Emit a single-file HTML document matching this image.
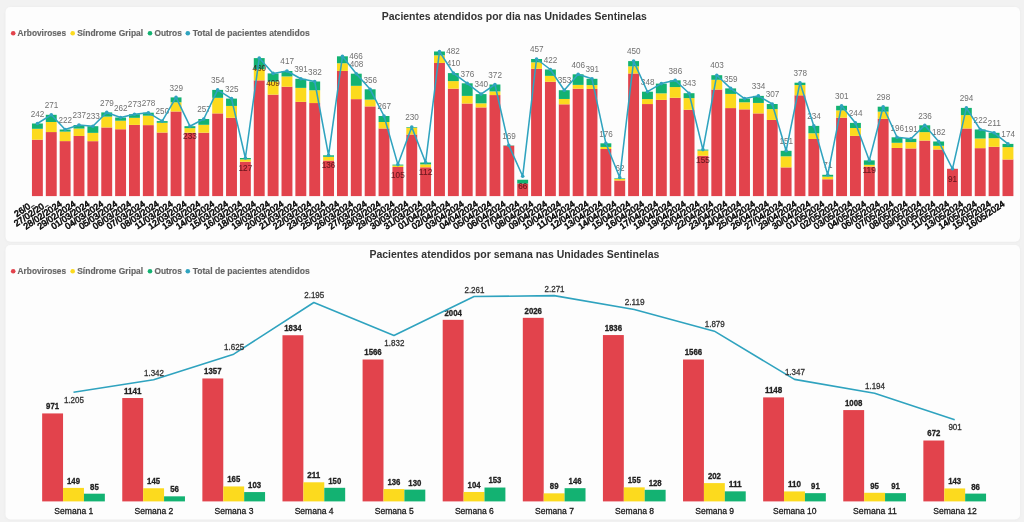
<!DOCTYPE html>
<html lang="pt-BR"><head><meta charset="utf-8"><title>Pacientes atendidos nas Unidades Sentinelas</title>
<style>html,body{margin:0;padding:0;background:#f2f2f2;}body{width:1024px;height:522px;overflow:hidden;}svg{display:block;filter:blur(0.4px);}</style></head>
<body>
<svg width="1024" height="522" viewBox="0 0 1024 522" font-family="'Liberation Sans', Arial, sans-serif">
<defs><filter id="sh" x="-2%" y="-5%" width="104%" height="110%"><feGaussianBlur stdDeviation="1.2"/></filter></defs>
<rect width="1024" height="522" fill="#f2f2f2"/>
<g opacity="0.999">
<rect x="5.5" y="7.5" width="1014.5" height="234.7" rx="5" fill="#e9e9e9" filter="url(#sh)"/>
<rect x="5.5" y="7" width="1014.5" height="234.7" rx="5" fill="#fdfdfd"/>
<rect x="5.5" y="245.5" width="1014.5" height="274.5" rx="5" fill="#e9e9e9" filter="url(#sh)"/>
<rect x="5.5" y="245" width="1014.5" height="274.5" rx="5" fill="#fdfdfd"/>
<text x="514.30" y="20.10" font-size="10.5" fill="#333" text-anchor="middle" font-weight="bold" textLength="265.0" lengthAdjust="spacingAndGlyphs" >Pacientes atendidos por dia nas Unidades Sentinelas</text>
<text x="514.40" y="257.90" font-size="10.5" fill="#333" text-anchor="middle" font-weight="bold" textLength="290.0" lengthAdjust="spacingAndGlyphs" >Pacientes atendidos por semana nas Unidades Sentinelas</text>
<circle cx="13.2" cy="33.3" r="2.3" fill="#E2434C"/>
<text x="17.60" y="36.30" font-size="8.4" fill="#666" text-anchor="start" font-weight="bold" textLength="48.5" lengthAdjust="spacingAndGlyphs" stroke="#666" stroke-width="0.15">Arboviroses</text>
<circle cx="72.7" cy="33.3" r="2.3" fill="#FCDA1E"/>
<text x="77.20" y="36.30" font-size="8.4" fill="#666" text-anchor="start" font-weight="bold" textLength="66.0" lengthAdjust="spacingAndGlyphs" stroke="#666" stroke-width="0.15">Síndrome Gripal</text>
<circle cx="150" cy="33.3" r="2.3" fill="#13B272"/>
<text x="154.40" y="36.30" font-size="8.4" fill="#666" text-anchor="start" font-weight="bold" textLength="27.4" lengthAdjust="spacingAndGlyphs" stroke="#666" stroke-width="0.15">Outros</text>
<circle cx="187.8" cy="33.3" r="2.3" fill="#2FA3BF"/>
<text x="192.70" y="36.30" font-size="8.4" fill="#666" text-anchor="start" font-weight="bold" textLength="117.0" lengthAdjust="spacingAndGlyphs" stroke="#666" stroke-width="0.15">Total de pacientes atendidos</text>
<circle cx="13.2" cy="271.3" r="2.3" fill="#E2434C"/>
<text x="17.60" y="274.30" font-size="8.4" fill="#666" text-anchor="start" font-weight="bold" textLength="48.5" lengthAdjust="spacingAndGlyphs" stroke="#666" stroke-width="0.15">Arboviroses</text>
<circle cx="72.7" cy="271.3" r="2.3" fill="#FCDA1E"/>
<text x="77.20" y="274.30" font-size="8.4" fill="#666" text-anchor="start" font-weight="bold" textLength="66.0" lengthAdjust="spacingAndGlyphs" stroke="#666" stroke-width="0.15">Síndrome Gripal</text>
<circle cx="150" cy="271.3" r="2.3" fill="#13B272"/>
<text x="154.40" y="274.30" font-size="8.4" fill="#666" text-anchor="start" font-weight="bold" textLength="27.4" lengthAdjust="spacingAndGlyphs" stroke="#666" stroke-width="0.15">Outros</text>
<circle cx="187.8" cy="271.3" r="2.3" fill="#2FA3BF"/>
<text x="192.70" y="274.30" font-size="8.4" fill="#666" text-anchor="start" font-weight="bold" textLength="117.0" lengthAdjust="spacingAndGlyphs" stroke="#666" stroke-width="0.15">Total de pacientes atendidos</text>
<rect x="31.95" y="139.69" width="10.9" height="56.41" fill="#E2434C"/>
<rect x="31.95" y="128.80" width="10.9" height="10.89" fill="#FCDA1E"/>
<rect x="31.95" y="123.50" width="10.9" height="5.30" fill="#13B272"/>
<rect x="45.81" y="132.06" width="10.9" height="64.04" fill="#E2434C"/>
<rect x="45.81" y="121.98" width="10.9" height="10.09" fill="#FCDA1E"/>
<rect x="45.81" y="114.80" width="10.9" height="7.18" fill="#13B272"/>
<rect x="59.68" y="141.11" width="10.9" height="54.99" fill="#E2434C"/>
<rect x="59.68" y="131.62" width="10.9" height="9.50" fill="#FCDA1E"/>
<rect x="59.68" y="129.50" width="10.9" height="2.12" fill="#13B272"/>
<rect x="73.55" y="135.96" width="10.9" height="60.14" fill="#E2434C"/>
<rect x="73.55" y="128.54" width="10.9" height="7.42" fill="#FCDA1E"/>
<rect x="73.55" y="125.00" width="10.9" height="3.54" fill="#13B272"/>
<rect x="87.41" y="141.17" width="10.9" height="54.93" fill="#E2434C"/>
<rect x="87.41" y="132.86" width="10.9" height="8.31" fill="#FCDA1E"/>
<rect x="87.41" y="126.20" width="10.9" height="6.66" fill="#13B272"/>
<rect x="101.27" y="127.44" width="10.9" height="68.66" fill="#E2434C"/>
<rect x="101.27" y="116.61" width="10.9" height="10.83" fill="#FCDA1E"/>
<rect x="101.27" y="112.40" width="10.9" height="4.21" fill="#13B272"/>
<rect x="115.14" y="129.25" width="10.9" height="66.85" fill="#E2434C"/>
<rect x="115.14" y="120.69" width="10.9" height="8.56" fill="#FCDA1E"/>
<rect x="115.14" y="117.50" width="10.9" height="3.19" fill="#13B272"/>
<rect x="129.01" y="124.91" width="10.9" height="71.19" fill="#E2434C"/>
<rect x="129.01" y="117.82" width="10.9" height="7.08" fill="#FCDA1E"/>
<rect x="129.01" y="114.20" width="10.9" height="3.62" fill="#13B272"/>
<rect x="142.87" y="125.12" width="10.9" height="70.98" fill="#E2434C"/>
<rect x="142.87" y="115.68" width="10.9" height="9.45" fill="#FCDA1E"/>
<rect x="142.87" y="112.70" width="10.9" height="2.98" fill="#13B272"/>
<rect x="156.74" y="132.53" width="10.9" height="63.57" fill="#E2434C"/>
<rect x="156.74" y="122.79" width="10.9" height="9.74" fill="#FCDA1E"/>
<rect x="156.74" y="121.10" width="10.9" height="1.69" fill="#13B272"/>
<rect x="170.60" y="111.47" width="10.9" height="84.63" fill="#E2434C"/>
<rect x="170.60" y="102.29" width="10.9" height="9.18" fill="#FCDA1E"/>
<rect x="170.60" y="97.40" width="10.9" height="4.89" fill="#13B272"/>
<rect x="184.47" y="132.72" width="10.9" height="63.38" fill="#E2434C"/>
<rect x="184.47" y="128.15" width="10.9" height="4.56" fill="#FCDA1E"/>
<rect x="184.47" y="126.20" width="10.9" height="1.95" fill="#13B272"/>
<rect x="198.33" y="132.71" width="10.9" height="63.39" fill="#E2434C"/>
<rect x="198.33" y="124.80" width="10.9" height="7.91" fill="#FCDA1E"/>
<rect x="198.33" y="119.00" width="10.9" height="5.80" fill="#13B272"/>
<rect x="212.20" y="113.39" width="10.9" height="82.71" fill="#E2434C"/>
<rect x="212.20" y="97.84" width="10.9" height="15.55" fill="#FCDA1E"/>
<rect x="212.20" y="89.90" width="10.9" height="7.94" fill="#13B272"/>
<rect x="226.06" y="117.78" width="10.9" height="78.32" fill="#E2434C"/>
<rect x="226.06" y="105.93" width="10.9" height="11.85" fill="#FCDA1E"/>
<rect x="226.06" y="98.60" width="10.9" height="7.33" fill="#13B272"/>
<rect x="239.93" y="161.74" width="10.9" height="34.36" fill="#E2434C"/>
<rect x="239.93" y="159.37" width="10.9" height="2.37" fill="#FCDA1E"/>
<rect x="239.93" y="158.00" width="10.9" height="1.37" fill="#13B272"/>
<rect x="253.79" y="80.37" width="10.9" height="115.73" fill="#E2434C"/>
<rect x="253.79" y="69.19" width="10.9" height="11.18" fill="#FCDA1E"/>
<rect x="253.79" y="58.10" width="10.9" height="11.09" fill="#13B272"/>
<rect x="267.66" y="94.64" width="10.9" height="101.46" fill="#E2434C"/>
<rect x="267.66" y="81.56" width="10.9" height="13.08" fill="#FCDA1E"/>
<rect x="267.66" y="73.40" width="10.9" height="8.16" fill="#13B272"/>
<rect x="281.52" y="86.73" width="10.9" height="109.37" fill="#E2434C"/>
<rect x="281.52" y="76.44" width="10.9" height="10.29" fill="#FCDA1E"/>
<rect x="281.52" y="71.00" width="10.9" height="5.44" fill="#13B272"/>
<rect x="295.38" y="101.84" width="10.9" height="94.26" fill="#E2434C"/>
<rect x="295.38" y="87.87" width="10.9" height="13.97" fill="#FCDA1E"/>
<rect x="295.38" y="78.80" width="10.9" height="9.07" fill="#13B272"/>
<rect x="309.25" y="103.05" width="10.9" height="93.05" fill="#E2434C"/>
<rect x="309.25" y="90.26" width="10.9" height="12.78" fill="#FCDA1E"/>
<rect x="309.25" y="81.50" width="10.9" height="8.76" fill="#13B272"/>
<rect x="323.12" y="160.53" width="10.9" height="35.57" fill="#E2434C"/>
<rect x="323.12" y="156.81" width="10.9" height="3.72" fill="#FCDA1E"/>
<rect x="323.12" y="155.30" width="10.9" height="1.51" fill="#13B272"/>
<rect x="336.98" y="70.93" width="10.9" height="125.17" fill="#E2434C"/>
<rect x="336.98" y="63.24" width="10.9" height="7.69" fill="#FCDA1E"/>
<rect x="336.98" y="56.30" width="10.9" height="6.94" fill="#13B272"/>
<rect x="350.84" y="99.14" width="10.9" height="96.96" fill="#E2434C"/>
<rect x="350.84" y="85.83" width="10.9" height="13.31" fill="#FCDA1E"/>
<rect x="350.84" y="73.70" width="10.9" height="12.13" fill="#13B272"/>
<rect x="364.71" y="106.40" width="10.9" height="89.70" fill="#E2434C"/>
<rect x="364.71" y="99.60" width="10.9" height="6.80" fill="#FCDA1E"/>
<rect x="364.71" y="89.30" width="10.9" height="10.30" fill="#13B272"/>
<rect x="378.57" y="128.50" width="10.9" height="67.60" fill="#E2434C"/>
<rect x="378.57" y="121.99" width="10.9" height="6.51" fill="#FCDA1E"/>
<rect x="378.57" y="116.00" width="10.9" height="5.99" fill="#13B272"/>
<rect x="392.44" y="167.00" width="10.9" height="29.10" fill="#E2434C"/>
<rect x="392.44" y="165.52" width="10.9" height="1.48" fill="#FCDA1E"/>
<rect x="392.44" y="164.60" width="10.9" height="0.92" fill="#13B272"/>
<rect x="406.31" y="134.51" width="10.9" height="61.59" fill="#E2434C"/>
<rect x="406.31" y="127.71" width="10.9" height="6.80" fill="#FCDA1E"/>
<rect x="406.31" y="127.10" width="10.9" height="0.61" fill="#13B272"/>
<rect x="420.17" y="167.27" width="10.9" height="28.83" fill="#E2434C"/>
<rect x="420.17" y="164.34" width="10.9" height="2.93" fill="#FCDA1E"/>
<rect x="420.17" y="162.50" width="10.9" height="1.84" fill="#13B272"/>
<rect x="434.03" y="62.96" width="10.9" height="133.14" fill="#E2434C"/>
<rect x="434.03" y="55.34" width="10.9" height="7.61" fill="#FCDA1E"/>
<rect x="434.03" y="51.50" width="10.9" height="3.84" fill="#13B272"/>
<rect x="447.90" y="88.70" width="10.9" height="107.40" fill="#E2434C"/>
<rect x="447.90" y="81.09" width="10.9" height="7.61" fill="#FCDA1E"/>
<rect x="447.90" y="73.10" width="10.9" height="7.99" fill="#13B272"/>
<rect x="461.76" y="103.51" width="10.9" height="92.59" fill="#E2434C"/>
<rect x="461.76" y="95.90" width="10.9" height="7.61" fill="#FCDA1E"/>
<rect x="461.76" y="83.30" width="10.9" height="12.60" fill="#13B272"/>
<rect x="475.63" y="107.42" width="10.9" height="88.68" fill="#E2434C"/>
<rect x="475.63" y="103.32" width="10.9" height="4.10" fill="#FCDA1E"/>
<rect x="475.63" y="94.10" width="10.9" height="9.22" fill="#13B272"/>
<rect x="489.50" y="95.07" width="10.9" height="101.03" fill="#E2434C"/>
<rect x="489.50" y="91.41" width="10.9" height="3.66" fill="#FCDA1E"/>
<rect x="489.50" y="84.50" width="10.9" height="6.91" fill="#13B272"/>
<rect x="503.36" y="145.71" width="10.9" height="50.39" fill="#E2434C"/>
<rect x="503.36" y="145.40" width="10.9" height="0.31" fill="#13B272"/>
<rect x="517.23" y="183.53" width="10.9" height="12.57" fill="#E2434C"/>
<rect x="517.23" y="179.75" width="10.9" height="3.78" fill="#13B272"/>
<rect x="531.09" y="68.77" width="10.9" height="127.33" fill="#E2434C"/>
<rect x="531.09" y="62.33" width="10.9" height="6.44" fill="#FCDA1E"/>
<rect x="531.09" y="59.00" width="10.9" height="3.33" fill="#13B272"/>
<rect x="544.95" y="81.79" width="10.9" height="114.31" fill="#E2434C"/>
<rect x="544.95" y="75.85" width="10.9" height="5.94" fill="#FCDA1E"/>
<rect x="544.95" y="69.50" width="10.9" height="6.35" fill="#13B272"/>
<rect x="558.82" y="104.32" width="10.9" height="91.78" fill="#E2434C"/>
<rect x="558.82" y="98.97" width="10.9" height="5.35" fill="#FCDA1E"/>
<rect x="558.82" y="90.20" width="10.9" height="8.77" fill="#13B272"/>
<rect x="572.68" y="88.75" width="10.9" height="107.35" fill="#E2434C"/>
<rect x="572.68" y="84.89" width="10.9" height="3.86" fill="#FCDA1E"/>
<rect x="572.68" y="74.30" width="10.9" height="10.59" fill="#13B272"/>
<rect x="586.55" y="88.92" width="10.9" height="107.18" fill="#E2434C"/>
<rect x="586.55" y="85.06" width="10.9" height="3.86" fill="#FCDA1E"/>
<rect x="586.55" y="78.80" width="10.9" height="6.26" fill="#13B272"/>
<rect x="600.41" y="149.01" width="10.9" height="47.09" fill="#E2434C"/>
<rect x="600.41" y="146.93" width="10.9" height="2.08" fill="#FCDA1E"/>
<rect x="600.41" y="143.30" width="10.9" height="3.63" fill="#13B272"/>
<rect x="614.28" y="180.50" width="10.9" height="15.60" fill="#E2434C"/>
<rect x="614.28" y="179.02" width="10.9" height="1.49" fill="#FCDA1E"/>
<rect x="614.28" y="178.40" width="10.9" height="0.62" fill="#13B272"/>
<rect x="628.14" y="73.47" width="10.9" height="122.63" fill="#E2434C"/>
<rect x="628.14" y="66.33" width="10.9" height="7.14" fill="#FCDA1E"/>
<rect x="628.14" y="61.10" width="10.9" height="5.23" fill="#13B272"/>
<rect x="642.01" y="104.05" width="10.9" height="92.05" fill="#E2434C"/>
<rect x="642.01" y="99.08" width="10.9" height="4.97" fill="#FCDA1E"/>
<rect x="642.01" y="91.70" width="10.9" height="7.38" fill="#13B272"/>
<rect x="655.87" y="99.90" width="10.9" height="96.20" fill="#E2434C"/>
<rect x="655.87" y="93.35" width="10.9" height="6.54" fill="#FCDA1E"/>
<rect x="655.87" y="83.60" width="10.9" height="9.75" fill="#13B272"/>
<rect x="669.74" y="97.78" width="10.9" height="98.32" fill="#E2434C"/>
<rect x="669.74" y="87.07" width="10.9" height="10.71" fill="#FCDA1E"/>
<rect x="669.74" y="80.30" width="10.9" height="6.77" fill="#13B272"/>
<rect x="683.60" y="109.72" width="10.9" height="86.38" fill="#E2434C"/>
<rect x="683.60" y="98.12" width="10.9" height="11.60" fill="#FCDA1E"/>
<rect x="683.60" y="93.20" width="10.9" height="4.92" fill="#13B272"/>
<rect x="697.47" y="155.79" width="10.9" height="40.31" fill="#E2434C"/>
<rect x="697.47" y="150.52" width="10.9" height="5.26" fill="#FCDA1E"/>
<rect x="697.47" y="149.60" width="10.9" height="0.92" fill="#13B272"/>
<rect x="711.33" y="89.54" width="10.9" height="106.56" fill="#E2434C"/>
<rect x="711.33" y="79.79" width="10.9" height="9.75" fill="#FCDA1E"/>
<rect x="711.33" y="75.20" width="10.9" height="4.59" fill="#13B272"/>
<rect x="725.20" y="108.09" width="10.9" height="88.01" fill="#E2434C"/>
<rect x="725.20" y="93.91" width="10.9" height="14.18" fill="#FCDA1E"/>
<rect x="725.20" y="88.40" width="10.9" height="5.51" fill="#13B272"/>
<rect x="739.06" y="109.36" width="10.9" height="86.74" fill="#E2434C"/>
<rect x="739.06" y="102.27" width="10.9" height="7.09" fill="#FCDA1E"/>
<rect x="739.06" y="98.60" width="10.9" height="3.67" fill="#13B272"/>
<rect x="752.93" y="113.40" width="10.9" height="82.70" fill="#E2434C"/>
<rect x="752.93" y="102.94" width="10.9" height="10.46" fill="#FCDA1E"/>
<rect x="752.93" y="95.90" width="10.9" height="7.04" fill="#13B272"/>
<rect x="766.79" y="119.95" width="10.9" height="76.15" fill="#E2434C"/>
<rect x="766.79" y="109.11" width="10.9" height="10.84" fill="#FCDA1E"/>
<rect x="766.79" y="104.00" width="10.9" height="5.11" fill="#13B272"/>
<rect x="780.66" y="167.39" width="10.9" height="28.71" fill="#E2434C"/>
<rect x="780.66" y="156.31" width="10.9" height="11.08" fill="#FCDA1E"/>
<rect x="780.66" y="150.80" width="10.9" height="5.51" fill="#13B272"/>
<rect x="794.52" y="95.30" width="10.9" height="100.80" fill="#E2434C"/>
<rect x="794.52" y="85.06" width="10.9" height="10.24" fill="#FCDA1E"/>
<rect x="794.52" y="82.70" width="10.9" height="2.36" fill="#13B272"/>
<rect x="808.39" y="138.98" width="10.9" height="57.12" fill="#E2434C"/>
<rect x="808.39" y="133.25" width="10.9" height="5.73" fill="#FCDA1E"/>
<rect x="808.39" y="125.90" width="10.9" height="7.35" fill="#13B272"/>
<rect x="822.25" y="179.27" width="10.9" height="16.83" fill="#E2434C"/>
<rect x="822.25" y="176.64" width="10.9" height="2.63" fill="#FCDA1E"/>
<rect x="822.25" y="174.80" width="10.9" height="1.84" fill="#13B272"/>
<rect x="836.12" y="117.71" width="10.9" height="78.39" fill="#E2434C"/>
<rect x="836.12" y="110.39" width="10.9" height="7.31" fill="#FCDA1E"/>
<rect x="836.12" y="105.80" width="10.9" height="4.59" fill="#13B272"/>
<rect x="849.98" y="135.91" width="10.9" height="60.19" fill="#E2434C"/>
<rect x="849.98" y="128.01" width="10.9" height="7.90" fill="#FCDA1E"/>
<rect x="849.98" y="122.90" width="10.9" height="5.11" fill="#13B272"/>
<rect x="863.85" y="166.59" width="10.9" height="29.51" fill="#E2434C"/>
<rect x="863.85" y="164.84" width="10.9" height="1.76" fill="#FCDA1E"/>
<rect x="863.85" y="160.40" width="10.9" height="4.44" fill="#13B272"/>
<rect x="877.71" y="118.84" width="10.9" height="77.26" fill="#E2434C"/>
<rect x="877.71" y="111.65" width="10.9" height="7.19" fill="#FCDA1E"/>
<rect x="877.71" y="106.70" width="10.9" height="4.95" fill="#13B272"/>
<rect x="891.58" y="147.95" width="10.9" height="48.15" fill="#E2434C"/>
<rect x="891.58" y="142.78" width="10.9" height="5.17" fill="#FCDA1E"/>
<rect x="891.58" y="137.30" width="10.9" height="5.48" fill="#13B272"/>
<rect x="905.44" y="148.45" width="10.9" height="47.65" fill="#E2434C"/>
<rect x="905.44" y="142.11" width="10.9" height="6.34" fill="#FCDA1E"/>
<rect x="905.44" y="138.80" width="10.9" height="3.31" fill="#13B272"/>
<rect x="919.31" y="140.58" width="10.9" height="55.52" fill="#E2434C"/>
<rect x="919.31" y="132.11" width="10.9" height="8.47" fill="#FCDA1E"/>
<rect x="919.31" y="125.30" width="10.9" height="6.81" fill="#13B272"/>
<rect x="933.17" y="149.49" width="10.9" height="46.61" fill="#E2434C"/>
<rect x="933.17" y="145.83" width="10.9" height="3.65" fill="#FCDA1E"/>
<rect x="933.17" y="141.50" width="10.9" height="4.33" fill="#13B272"/>
<rect x="947.04" y="168.80" width="10.9" height="27.30" fill="#E2434C"/>
<rect x="960.90" y="128.49" width="10.9" height="67.61" fill="#E2434C"/>
<rect x="960.90" y="115.10" width="10.9" height="13.38" fill="#FCDA1E"/>
<rect x="960.90" y="107.90" width="10.9" height="7.20" fill="#13B272"/>
<rect x="974.77" y="148.16" width="10.9" height="47.94" fill="#E2434C"/>
<rect x="974.77" y="138.50" width="10.9" height="9.66" fill="#FCDA1E"/>
<rect x="974.77" y="129.50" width="10.9" height="9.00" fill="#13B272"/>
<rect x="988.63" y="146.80" width="10.9" height="49.30" fill="#E2434C"/>
<rect x="988.63" y="138.18" width="10.9" height="8.62" fill="#FCDA1E"/>
<rect x="988.63" y="132.80" width="10.9" height="5.38" fill="#13B272"/>
<rect x="1002.50" y="159.49" width="10.9" height="36.61" fill="#E2434C"/>
<rect x="1002.50" y="147.12" width="10.9" height="12.37" fill="#FCDA1E"/>
<rect x="1002.50" y="143.90" width="10.9" height="3.22" fill="#13B272"/>
<text x="37.60" y="116.75" font-size="8.3" fill="#707070" text-anchor="middle" textLength="13.6" lengthAdjust="spacingAndGlyphs" >242</text>
<text x="51.47" y="108.05" font-size="8.3" fill="#707070" text-anchor="middle" textLength="13.6" lengthAdjust="spacingAndGlyphs" >271</text>
<text x="65.33" y="122.75" font-size="8.3" fill="#707070" text-anchor="middle" textLength="13.6" lengthAdjust="spacingAndGlyphs" >222</text>
<text x="79.20" y="118.25" font-size="8.3" fill="#707070" text-anchor="middle" textLength="13.6" lengthAdjust="spacingAndGlyphs" >237</text>
<text x="93.06" y="119.45" font-size="8.3" fill="#707070" text-anchor="middle" textLength="13.6" lengthAdjust="spacingAndGlyphs" >233</text>
<text x="106.92" y="105.65" font-size="8.3" fill="#707070" text-anchor="middle" textLength="13.6" lengthAdjust="spacingAndGlyphs" >279</text>
<text x="120.79" y="110.75" font-size="8.3" fill="#707070" text-anchor="middle" textLength="13.6" lengthAdjust="spacingAndGlyphs" >262</text>
<text x="134.66" y="107.45" font-size="8.3" fill="#707070" text-anchor="middle" textLength="13.6" lengthAdjust="spacingAndGlyphs" >273</text>
<text x="148.52" y="105.95" font-size="8.3" fill="#707070" text-anchor="middle" textLength="13.6" lengthAdjust="spacingAndGlyphs" >278</text>
<text x="162.38" y="114.35" font-size="8.3" fill="#707070" text-anchor="middle" textLength="13.6" lengthAdjust="spacingAndGlyphs" >250</text>
<text x="176.25" y="90.65" font-size="8.3" fill="#707070" text-anchor="middle" textLength="13.6" lengthAdjust="spacingAndGlyphs" >329</text>
<text x="189.92" y="139.15" font-size="8.3" fill="#45080f" text-anchor="middle" textLength="13.6" lengthAdjust="spacingAndGlyphs" fill-opacity="0.72" stroke="#45080f" stroke-width="0.15" stroke-opacity="0.6">233</text>
<text x="203.98" y="112.25" font-size="8.3" fill="#707070" text-anchor="middle" textLength="13.6" lengthAdjust="spacingAndGlyphs" >257</text>
<text x="217.84" y="83.15" font-size="8.3" fill="#707070" text-anchor="middle" textLength="13.6" lengthAdjust="spacingAndGlyphs" >354</text>
<text x="231.71" y="91.85" font-size="8.3" fill="#707070" text-anchor="middle" textLength="13.6" lengthAdjust="spacingAndGlyphs" >325</text>
<text x="245.38" y="170.95" font-size="8.3" fill="#45080f" text-anchor="middle" textLength="13.6" lengthAdjust="spacingAndGlyphs" fill-opacity="0.72" stroke="#45080f" stroke-width="0.15" stroke-opacity="0.6">127</text>
<text x="259.24" y="71.05" font-size="8.3" fill="#45080f" text-anchor="middle" textLength="13.6" lengthAdjust="spacingAndGlyphs" fill-opacity="0.72" stroke="#45080f" stroke-width="0.15" stroke-opacity="0.6">460</text>
<text x="273.11" y="86.35" font-size="8.3" fill="#45080f" text-anchor="middle" textLength="13.6" lengthAdjust="spacingAndGlyphs" fill-opacity="0.72" stroke="#45080f" stroke-width="0.15" stroke-opacity="0.6">409</text>
<text x="287.17" y="64.25" font-size="8.3" fill="#707070" text-anchor="middle" textLength="13.6" lengthAdjust="spacingAndGlyphs" >417</text>
<text x="301.03" y="72.05" font-size="8.3" fill="#707070" text-anchor="middle" textLength="13.6" lengthAdjust="spacingAndGlyphs" >391</text>
<text x="314.90" y="74.75" font-size="8.3" fill="#707070" text-anchor="middle" textLength="13.6" lengthAdjust="spacingAndGlyphs" >382</text>
<text x="328.56" y="168.25" font-size="8.3" fill="#45080f" text-anchor="middle" textLength="13.6" lengthAdjust="spacingAndGlyphs" fill-opacity="0.72" stroke="#45080f" stroke-width="0.15" stroke-opacity="0.6">136</text>
<text x="356.03" y="59.25" font-size="8.3" fill="#707070" text-anchor="middle" textLength="13.6" lengthAdjust="spacingAndGlyphs" >466</text>
<text x="356.49" y="66.95" font-size="8.3" fill="#707070" text-anchor="middle" textLength="13.6" lengthAdjust="spacingAndGlyphs" >408</text>
<text x="370.36" y="82.55" font-size="8.3" fill="#707070" text-anchor="middle" textLength="13.6" lengthAdjust="spacingAndGlyphs" >356</text>
<text x="384.22" y="109.25" font-size="8.3" fill="#707070" text-anchor="middle" textLength="13.6" lengthAdjust="spacingAndGlyphs" >267</text>
<text x="397.89" y="177.55" font-size="8.3" fill="#45080f" text-anchor="middle" textLength="13.6" lengthAdjust="spacingAndGlyphs" fill-opacity="0.72" stroke="#45080f" stroke-width="0.15" stroke-opacity="0.6">105</text>
<text x="411.95" y="120.35" font-size="8.3" fill="#707070" text-anchor="middle" textLength="13.6" lengthAdjust="spacingAndGlyphs" >230</text>
<text x="425.62" y="175.45" font-size="8.3" fill="#45080f" text-anchor="middle" textLength="13.6" lengthAdjust="spacingAndGlyphs" fill-opacity="0.72" stroke="#45080f" stroke-width="0.15" stroke-opacity="0.6">112</text>
<text x="453.08" y="54.45" font-size="8.3" fill="#707070" text-anchor="middle" textLength="13.6" lengthAdjust="spacingAndGlyphs" >482</text>
<text x="453.55" y="66.35" font-size="8.3" fill="#707070" text-anchor="middle" textLength="13.6" lengthAdjust="spacingAndGlyphs" >410</text>
<text x="467.41" y="76.55" font-size="8.3" fill="#707070" text-anchor="middle" textLength="13.6" lengthAdjust="spacingAndGlyphs" >376</text>
<text x="481.28" y="87.35" font-size="8.3" fill="#707070" text-anchor="middle" textLength="13.6" lengthAdjust="spacingAndGlyphs" >340</text>
<text x="495.14" y="77.75" font-size="8.3" fill="#707070" text-anchor="middle" textLength="13.6" lengthAdjust="spacingAndGlyphs" >372</text>
<text x="509.01" y="138.65" font-size="8.3" fill="#707070" text-anchor="middle" textLength="13.6" lengthAdjust="spacingAndGlyphs" >169</text>
<text x="522.68" y="189.25" font-size="8.3" fill="#45080f" text-anchor="middle" textLength="9.1" lengthAdjust="spacingAndGlyphs" fill-opacity="0.72" stroke="#45080f" stroke-width="0.15" stroke-opacity="0.6">66</text>
<text x="536.74" y="52.25" font-size="8.3" fill="#707070" text-anchor="middle" textLength="13.6" lengthAdjust="spacingAndGlyphs" >457</text>
<text x="550.61" y="62.75" font-size="8.3" fill="#707070" text-anchor="middle" textLength="13.6" lengthAdjust="spacingAndGlyphs" >422</text>
<text x="564.47" y="83.45" font-size="8.3" fill="#707070" text-anchor="middle" textLength="13.6" lengthAdjust="spacingAndGlyphs" >353</text>
<text x="578.34" y="67.55" font-size="8.3" fill="#707070" text-anchor="middle" textLength="13.6" lengthAdjust="spacingAndGlyphs" >406</text>
<text x="592.20" y="72.05" font-size="8.3" fill="#707070" text-anchor="middle" textLength="13.6" lengthAdjust="spacingAndGlyphs" >391</text>
<text x="606.07" y="136.55" font-size="8.3" fill="#707070" text-anchor="middle" textLength="13.6" lengthAdjust="spacingAndGlyphs" >176</text>
<text x="619.93" y="170.75" font-size="8.3" fill="#707070" text-anchor="middle" textLength="9.1" lengthAdjust="spacingAndGlyphs" >62</text>
<text x="633.80" y="54.35" font-size="8.3" fill="#707070" text-anchor="middle" textLength="13.6" lengthAdjust="spacingAndGlyphs" >450</text>
<text x="647.66" y="84.95" font-size="8.3" fill="#707070" text-anchor="middle" textLength="13.6" lengthAdjust="spacingAndGlyphs" >348</text>
<text x="675.39" y="73.55" font-size="8.3" fill="#707070" text-anchor="middle" textLength="13.6" lengthAdjust="spacingAndGlyphs" >386</text>
<text x="689.25" y="86.45" font-size="8.3" fill="#707070" text-anchor="middle" textLength="13.6" lengthAdjust="spacingAndGlyphs" >343</text>
<text x="702.92" y="162.55" font-size="8.3" fill="#45080f" text-anchor="middle" textLength="13.6" lengthAdjust="spacingAndGlyphs" fill-opacity="0.72" stroke="#45080f" stroke-width="0.15" stroke-opacity="0.6">155</text>
<text x="716.99" y="68.45" font-size="8.3" fill="#707070" text-anchor="middle" textLength="13.6" lengthAdjust="spacingAndGlyphs" >403</text>
<text x="730.85" y="81.65" font-size="8.3" fill="#707070" text-anchor="middle" textLength="13.6" lengthAdjust="spacingAndGlyphs" >359</text>
<text x="758.58" y="89.15" font-size="8.3" fill="#707070" text-anchor="middle" textLength="13.6" lengthAdjust="spacingAndGlyphs" >334</text>
<text x="772.45" y="97.25" font-size="8.3" fill="#707070" text-anchor="middle" textLength="13.6" lengthAdjust="spacingAndGlyphs" >307</text>
<text x="786.31" y="144.05" font-size="8.3" fill="#707070" text-anchor="middle" textLength="13.6" lengthAdjust="spacingAndGlyphs" >151</text>
<text x="800.18" y="75.95" font-size="8.3" fill="#707070" text-anchor="middle" textLength="13.6" lengthAdjust="spacingAndGlyphs" >378</text>
<text x="814.04" y="119.15" font-size="8.3" fill="#707070" text-anchor="middle" textLength="13.6" lengthAdjust="spacingAndGlyphs" >234</text>
<text x="827.91" y="168.05" font-size="8.3" fill="#707070" text-anchor="middle" textLength="9.1" lengthAdjust="spacingAndGlyphs" >71</text>
<text x="841.77" y="99.05" font-size="8.3" fill="#707070" text-anchor="middle" textLength="13.6" lengthAdjust="spacingAndGlyphs" >301</text>
<text x="855.63" y="116.15" font-size="8.3" fill="#707070" text-anchor="middle" textLength="13.6" lengthAdjust="spacingAndGlyphs" >244</text>
<text x="869.30" y="173.35" font-size="8.3" fill="#45080f" text-anchor="middle" textLength="13.6" lengthAdjust="spacingAndGlyphs" fill-opacity="0.72" stroke="#45080f" stroke-width="0.15" stroke-opacity="0.6">119</text>
<text x="883.37" y="99.95" font-size="8.3" fill="#707070" text-anchor="middle" textLength="13.6" lengthAdjust="spacingAndGlyphs" >298</text>
<text x="897.23" y="130.55" font-size="8.3" fill="#707070" text-anchor="middle" textLength="13.6" lengthAdjust="spacingAndGlyphs" >196</text>
<text x="911.10" y="132.05" font-size="8.3" fill="#707070" text-anchor="middle" textLength="13.6" lengthAdjust="spacingAndGlyphs" >191</text>
<text x="924.96" y="118.55" font-size="8.3" fill="#707070" text-anchor="middle" textLength="13.6" lengthAdjust="spacingAndGlyphs" >236</text>
<text x="938.83" y="134.75" font-size="8.3" fill="#707070" text-anchor="middle" textLength="13.6" lengthAdjust="spacingAndGlyphs" >182</text>
<text x="952.49" y="181.75" font-size="8.3" fill="#45080f" text-anchor="middle" textLength="9.1" lengthAdjust="spacingAndGlyphs" fill-opacity="0.72" stroke="#45080f" stroke-width="0.15" stroke-opacity="0.6">91</text>
<text x="966.56" y="101.15" font-size="8.3" fill="#707070" text-anchor="middle" textLength="13.6" lengthAdjust="spacingAndGlyphs" >294</text>
<text x="980.42" y="122.75" font-size="8.3" fill="#707070" text-anchor="middle" textLength="13.6" lengthAdjust="spacingAndGlyphs" >222</text>
<text x="994.29" y="126.05" font-size="8.3" fill="#707070" text-anchor="middle" textLength="13.6" lengthAdjust="spacingAndGlyphs" >211</text>
<text x="1008.15" y="137.15" font-size="8.3" fill="#707070" text-anchor="middle" textLength="13.6" lengthAdjust="spacingAndGlyphs" >174</text>
<polyline fill="none" stroke="#2FA3BF" stroke-width="1.55" stroke-linejoin="round" points="37.40,123.50 51.27,114.80 65.13,129.50 79.00,125.00 92.86,126.20 106.72,112.40 120.59,117.50 134.46,114.20 148.32,112.70 162.19,121.10 176.05,97.40 189.92,126.20 203.78,119.00 217.65,89.90 231.51,98.60 245.38,158.00 259.24,58.10 273.11,73.40 286.97,71.00 300.83,78.80 314.70,81.50 328.56,155.30 342.43,56.30 356.29,73.70 370.16,89.30 384.02,116.00 397.89,164.60 411.75,127.10 425.62,162.50 439.48,51.50 453.35,73.10 467.21,83.30 481.08,94.10 494.94,84.50 508.81,145.40 522.68,176.30 536.54,59.00 550.40,69.50 564.27,90.20 578.13,74.30 592.00,78.80 605.87,143.30 619.73,177.50 633.60,61.10 647.46,91.70 661.32,83.60 675.19,80.30 689.05,93.20 702.92,149.60 716.78,75.20 730.65,88.40 744.51,98.60 758.38,95.90 772.25,104.00 786.11,150.80 799.98,82.70 813.84,125.90 827.71,174.80 841.57,105.80 855.43,122.90 869.30,160.40 883.16,106.70 897.03,137.30 910.89,138.80 924.76,125.30 938.62,141.50 952.49,168.80 966.36,107.90 980.22,129.50 994.09,132.80 1007.95,143.90"/>
<circle cx="37.40" cy="123.50" r="1.8" fill="#2FA3BF"/>
<circle cx="51.27" cy="114.80" r="1.8" fill="#2FA3BF"/>
<circle cx="65.13" cy="129.50" r="1.8" fill="#2FA3BF"/>
<circle cx="79.00" cy="125.00" r="1.8" fill="#2FA3BF"/>
<circle cx="92.86" cy="126.20" r="1.8" fill="#2FA3BF"/>
<circle cx="106.72" cy="112.40" r="1.8" fill="#2FA3BF"/>
<circle cx="120.59" cy="117.50" r="1.8" fill="#2FA3BF"/>
<circle cx="134.46" cy="114.20" r="1.8" fill="#2FA3BF"/>
<circle cx="148.32" cy="112.70" r="1.8" fill="#2FA3BF"/>
<circle cx="162.19" cy="121.10" r="1.8" fill="#2FA3BF"/>
<circle cx="176.05" cy="97.40" r="1.8" fill="#2FA3BF"/>
<circle cx="189.92" cy="126.20" r="1.8" fill="#2FA3BF"/>
<circle cx="203.78" cy="119.00" r="1.8" fill="#2FA3BF"/>
<circle cx="217.65" cy="89.90" r="1.8" fill="#2FA3BF"/>
<circle cx="231.51" cy="98.60" r="1.8" fill="#2FA3BF"/>
<circle cx="245.38" cy="158.00" r="1.8" fill="#2FA3BF"/>
<circle cx="259.24" cy="58.10" r="1.8" fill="#2FA3BF"/>
<circle cx="273.11" cy="73.40" r="1.8" fill="#2FA3BF"/>
<circle cx="286.97" cy="71.00" r="1.8" fill="#2FA3BF"/>
<circle cx="300.83" cy="78.80" r="1.8" fill="#2FA3BF"/>
<circle cx="314.70" cy="81.50" r="1.8" fill="#2FA3BF"/>
<circle cx="328.56" cy="155.30" r="1.8" fill="#2FA3BF"/>
<circle cx="342.43" cy="56.30" r="1.8" fill="#2FA3BF"/>
<circle cx="356.29" cy="73.70" r="1.8" fill="#2FA3BF"/>
<circle cx="370.16" cy="89.30" r="1.8" fill="#2FA3BF"/>
<circle cx="384.02" cy="116.00" r="1.8" fill="#2FA3BF"/>
<circle cx="397.89" cy="164.60" r="1.8" fill="#2FA3BF"/>
<circle cx="411.75" cy="127.10" r="1.8" fill="#2FA3BF"/>
<circle cx="425.62" cy="162.50" r="1.8" fill="#2FA3BF"/>
<circle cx="439.48" cy="51.50" r="1.8" fill="#2FA3BF"/>
<circle cx="453.35" cy="73.10" r="1.8" fill="#2FA3BF"/>
<circle cx="467.21" cy="83.30" r="1.8" fill="#2FA3BF"/>
<circle cx="481.08" cy="94.10" r="1.8" fill="#2FA3BF"/>
<circle cx="494.94" cy="84.50" r="1.8" fill="#2FA3BF"/>
<circle cx="508.81" cy="145.40" r="1.8" fill="#2FA3BF"/>
<circle cx="522.68" cy="176.30" r="1.8" fill="#2FA3BF"/>
<circle cx="536.54" cy="59.00" r="1.8" fill="#2FA3BF"/>
<circle cx="550.40" cy="69.50" r="1.8" fill="#2FA3BF"/>
<circle cx="564.27" cy="90.20" r="1.8" fill="#2FA3BF"/>
<circle cx="578.13" cy="74.30" r="1.8" fill="#2FA3BF"/>
<circle cx="592.00" cy="78.80" r="1.8" fill="#2FA3BF"/>
<circle cx="605.87" cy="143.30" r="1.8" fill="#2FA3BF"/>
<circle cx="619.73" cy="177.50" r="1.8" fill="#2FA3BF"/>
<circle cx="633.60" cy="61.10" r="1.8" fill="#2FA3BF"/>
<circle cx="647.46" cy="91.70" r="1.8" fill="#2FA3BF"/>
<circle cx="661.32" cy="83.60" r="1.8" fill="#2FA3BF"/>
<circle cx="675.19" cy="80.30" r="1.8" fill="#2FA3BF"/>
<circle cx="689.05" cy="93.20" r="1.8" fill="#2FA3BF"/>
<circle cx="702.92" cy="149.60" r="1.8" fill="#2FA3BF"/>
<circle cx="716.78" cy="75.20" r="1.8" fill="#2FA3BF"/>
<circle cx="730.65" cy="88.40" r="1.8" fill="#2FA3BF"/>
<circle cx="744.51" cy="98.60" r="1.8" fill="#2FA3BF"/>
<circle cx="758.38" cy="95.90" r="1.8" fill="#2FA3BF"/>
<circle cx="772.25" cy="104.00" r="1.8" fill="#2FA3BF"/>
<circle cx="786.11" cy="150.80" r="1.8" fill="#2FA3BF"/>
<circle cx="799.98" cy="82.70" r="1.8" fill="#2FA3BF"/>
<circle cx="813.84" cy="125.90" r="1.8" fill="#2FA3BF"/>
<circle cx="827.71" cy="174.80" r="1.8" fill="#2FA3BF"/>
<circle cx="841.57" cy="105.80" r="1.8" fill="#2FA3BF"/>
<circle cx="855.43" cy="122.90" r="1.8" fill="#2FA3BF"/>
<circle cx="869.30" cy="160.40" r="1.8" fill="#2FA3BF"/>
<circle cx="883.16" cy="106.70" r="1.8" fill="#2FA3BF"/>
<circle cx="897.03" cy="137.30" r="1.8" fill="#2FA3BF"/>
<circle cx="910.89" cy="138.80" r="1.8" fill="#2FA3BF"/>
<circle cx="924.76" cy="125.30" r="1.8" fill="#2FA3BF"/>
<circle cx="938.62" cy="141.50" r="1.8" fill="#2FA3BF"/>
<circle cx="952.49" cy="168.80" r="1.8" fill="#2FA3BF"/>
<circle cx="966.36" cy="107.90" r="1.8" fill="#2FA3BF"/>
<circle cx="980.22" cy="129.50" r="1.8" fill="#2FA3BF"/>
<circle cx="994.09" cy="132.80" r="1.8" fill="#2FA3BF"/>
<circle cx="1007.95" cy="143.90" r="1.8" fill="#2FA3BF"/>
<text transform="translate(34.80,205.20) rotate(-34)" font-size="8.8" fill="#111" text-anchor="end" stroke="#111" stroke-width="0.6">26/0<tspan font-size="4.5">…</tspan></text>
<text transform="translate(48.66,205.20) rotate(-34)" font-size="8.8" fill="#111" text-anchor="end" stroke="#111" stroke-width="0.6">27/02/20<tspan font-size="4.5">…</tspan></text>
<text transform="translate(62.53,205.20) rotate(-34)" font-size="8.8" fill="#111" text-anchor="end" stroke="#111" stroke-width="0.6">28/02/2024</text>
<text transform="translate(76.40,205.20) rotate(-34)" font-size="8.8" fill="#111" text-anchor="end" stroke="#111" stroke-width="0.6">29/02/2024</text>
<text transform="translate(90.26,205.20) rotate(-34)" font-size="8.8" fill="#111" text-anchor="end" stroke="#111" stroke-width="0.6">01/03/2024</text>
<text transform="translate(104.12,205.20) rotate(-34)" font-size="8.8" fill="#111" text-anchor="end" stroke="#111" stroke-width="0.6">04/03/2024</text>
<text transform="translate(117.99,205.20) rotate(-34)" font-size="8.8" fill="#111" text-anchor="end" stroke="#111" stroke-width="0.6">05/03/2024</text>
<text transform="translate(131.86,205.20) rotate(-34)" font-size="8.8" fill="#111" text-anchor="end" stroke="#111" stroke-width="0.6">06/03/2024</text>
<text transform="translate(145.72,205.20) rotate(-34)" font-size="8.8" fill="#111" text-anchor="end" stroke="#111" stroke-width="0.6">07/03/2024</text>
<text transform="translate(159.59,205.20) rotate(-34)" font-size="8.8" fill="#111" text-anchor="end" stroke="#111" stroke-width="0.6">08/03/2024</text>
<text transform="translate(173.45,205.20) rotate(-34)" font-size="8.8" fill="#111" text-anchor="end" stroke="#111" stroke-width="0.6">11/03/2024</text>
<text transform="translate(187.32,205.20) rotate(-34)" font-size="8.8" fill="#111" text-anchor="end" stroke="#111" stroke-width="0.6">12/03/2024</text>
<text transform="translate(201.18,205.20) rotate(-34)" font-size="8.8" fill="#111" text-anchor="end" stroke="#111" stroke-width="0.6">13/03/2024</text>
<text transform="translate(215.05,205.20) rotate(-34)" font-size="8.8" fill="#111" text-anchor="end" stroke="#111" stroke-width="0.6">14/03/2024</text>
<text transform="translate(228.91,205.20) rotate(-34)" font-size="8.8" fill="#111" text-anchor="end" stroke="#111" stroke-width="0.6">15/03/2024</text>
<text transform="translate(242.78,205.20) rotate(-34)" font-size="8.8" fill="#111" text-anchor="end" stroke="#111" stroke-width="0.6">16/03/2024</text>
<text transform="translate(256.64,205.20) rotate(-34)" font-size="8.8" fill="#111" text-anchor="end" stroke="#111" stroke-width="0.6">18/03/2024</text>
<text transform="translate(270.50,205.20) rotate(-34)" font-size="8.8" fill="#111" text-anchor="end" stroke="#111" stroke-width="0.6">19/03/2024</text>
<text transform="translate(284.37,205.20) rotate(-34)" font-size="8.8" fill="#111" text-anchor="end" stroke="#111" stroke-width="0.6">20/03/2024</text>
<text transform="translate(298.23,205.20) rotate(-34)" font-size="8.8" fill="#111" text-anchor="end" stroke="#111" stroke-width="0.6">21/03/2024</text>
<text transform="translate(312.10,205.20) rotate(-34)" font-size="8.8" fill="#111" text-anchor="end" stroke="#111" stroke-width="0.6">22/03/2024</text>
<text transform="translate(325.96,205.20) rotate(-34)" font-size="8.8" fill="#111" text-anchor="end" stroke="#111" stroke-width="0.6">23/03/2024</text>
<text transform="translate(339.83,205.20) rotate(-34)" font-size="8.8" fill="#111" text-anchor="end" stroke="#111" stroke-width="0.6">25/03/2024</text>
<text transform="translate(353.69,205.20) rotate(-34)" font-size="8.8" fill="#111" text-anchor="end" stroke="#111" stroke-width="0.6">26/03/2024</text>
<text transform="translate(367.56,205.20) rotate(-34)" font-size="8.8" fill="#111" text-anchor="end" stroke="#111" stroke-width="0.6">27/03/2024</text>
<text transform="translate(381.42,205.20) rotate(-34)" font-size="8.8" fill="#111" text-anchor="end" stroke="#111" stroke-width="0.6">28/03/2024</text>
<text transform="translate(395.29,205.20) rotate(-34)" font-size="8.8" fill="#111" text-anchor="end" stroke="#111" stroke-width="0.6">29/03/2024</text>
<text transform="translate(409.15,205.20) rotate(-34)" font-size="8.8" fill="#111" text-anchor="end" stroke="#111" stroke-width="0.6">30/03/2024</text>
<text transform="translate(423.02,205.20) rotate(-34)" font-size="8.8" fill="#111" text-anchor="end" stroke="#111" stroke-width="0.6">31/03/2024</text>
<text transform="translate(436.88,205.20) rotate(-34)" font-size="8.8" fill="#111" text-anchor="end" stroke="#111" stroke-width="0.6">01/04/2024</text>
<text transform="translate(450.75,205.20) rotate(-34)" font-size="8.8" fill="#111" text-anchor="end" stroke="#111" stroke-width="0.6">02/04/2024</text>
<text transform="translate(464.61,205.20) rotate(-34)" font-size="8.8" fill="#111" text-anchor="end" stroke="#111" stroke-width="0.6">03/04/2024</text>
<text transform="translate(478.48,205.20) rotate(-34)" font-size="8.8" fill="#111" text-anchor="end" stroke="#111" stroke-width="0.6">04/04/2024</text>
<text transform="translate(492.34,205.20) rotate(-34)" font-size="8.8" fill="#111" text-anchor="end" stroke="#111" stroke-width="0.6">05/04/2024</text>
<text transform="translate(506.21,205.20) rotate(-34)" font-size="8.8" fill="#111" text-anchor="end" stroke="#111" stroke-width="0.6">06/04/2024</text>
<text transform="translate(520.08,205.20) rotate(-34)" font-size="8.8" fill="#111" text-anchor="end" stroke="#111" stroke-width="0.6">07/04/2024</text>
<text transform="translate(533.94,205.20) rotate(-34)" font-size="8.8" fill="#111" text-anchor="end" stroke="#111" stroke-width="0.6">08/04/2024</text>
<text transform="translate(547.80,205.20) rotate(-34)" font-size="8.8" fill="#111" text-anchor="end" stroke="#111" stroke-width="0.6">09/04/2024</text>
<text transform="translate(561.67,205.20) rotate(-34)" font-size="8.8" fill="#111" text-anchor="end" stroke="#111" stroke-width="0.6">10/04/2024</text>
<text transform="translate(575.53,205.20) rotate(-34)" font-size="8.8" fill="#111" text-anchor="end" stroke="#111" stroke-width="0.6">11/04/2024</text>
<text transform="translate(589.40,205.20) rotate(-34)" font-size="8.8" fill="#111" text-anchor="end" stroke="#111" stroke-width="0.6">12/04/2024</text>
<text transform="translate(603.26,205.20) rotate(-34)" font-size="8.8" fill="#111" text-anchor="end" stroke="#111" stroke-width="0.6">13/04/2024</text>
<text transform="translate(617.13,205.20) rotate(-34)" font-size="8.8" fill="#111" text-anchor="end" stroke="#111" stroke-width="0.6">14/04/2024</text>
<text transform="translate(631.00,205.20) rotate(-34)" font-size="8.8" fill="#111" text-anchor="end" stroke="#111" stroke-width="0.6">15/04/2024</text>
<text transform="translate(644.86,205.20) rotate(-34)" font-size="8.8" fill="#111" text-anchor="end" stroke="#111" stroke-width="0.6">16/04/2024</text>
<text transform="translate(658.72,205.20) rotate(-34)" font-size="8.8" fill="#111" text-anchor="end" stroke="#111" stroke-width="0.6">17/04/2024</text>
<text transform="translate(672.59,205.20) rotate(-34)" font-size="8.8" fill="#111" text-anchor="end" stroke="#111" stroke-width="0.6">18/04/2024</text>
<text transform="translate(686.45,205.20) rotate(-34)" font-size="8.8" fill="#111" text-anchor="end" stroke="#111" stroke-width="0.6">19/04/2024</text>
<text transform="translate(700.32,205.20) rotate(-34)" font-size="8.8" fill="#111" text-anchor="end" stroke="#111" stroke-width="0.6">20/04/2024</text>
<text transform="translate(714.18,205.20) rotate(-34)" font-size="8.8" fill="#111" text-anchor="end" stroke="#111" stroke-width="0.6">22/04/2024</text>
<text transform="translate(728.05,205.20) rotate(-34)" font-size="8.8" fill="#111" text-anchor="end" stroke="#111" stroke-width="0.6">23/04/2024</text>
<text transform="translate(741.91,205.20) rotate(-34)" font-size="8.8" fill="#111" text-anchor="end" stroke="#111" stroke-width="0.6">24/04/2024</text>
<text transform="translate(755.78,205.20) rotate(-34)" font-size="8.8" fill="#111" text-anchor="end" stroke="#111" stroke-width="0.6">25/04/2024</text>
<text transform="translate(769.64,205.20) rotate(-34)" font-size="8.8" fill="#111" text-anchor="end" stroke="#111" stroke-width="0.6">26/04/2024</text>
<text transform="translate(783.51,205.20) rotate(-34)" font-size="8.8" fill="#111" text-anchor="end" stroke="#111" stroke-width="0.6">27/04/2024</text>
<text transform="translate(797.38,205.20) rotate(-34)" font-size="8.8" fill="#111" text-anchor="end" stroke="#111" stroke-width="0.6">29/04/2024</text>
<text transform="translate(811.24,205.20) rotate(-34)" font-size="8.8" fill="#111" text-anchor="end" stroke="#111" stroke-width="0.6">30/04/2024</text>
<text transform="translate(825.11,205.20) rotate(-34)" font-size="8.8" fill="#111" text-anchor="end" stroke="#111" stroke-width="0.6">01/05/2024</text>
<text transform="translate(838.97,205.20) rotate(-34)" font-size="8.8" fill="#111" text-anchor="end" stroke="#111" stroke-width="0.6">02/05/2024</text>
<text transform="translate(852.83,205.20) rotate(-34)" font-size="8.8" fill="#111" text-anchor="end" stroke="#111" stroke-width="0.6">03/05/2024</text>
<text transform="translate(866.70,205.20) rotate(-34)" font-size="8.8" fill="#111" text-anchor="end" stroke="#111" stroke-width="0.6">04/05/2024</text>
<text transform="translate(880.56,205.20) rotate(-34)" font-size="8.8" fill="#111" text-anchor="end" stroke="#111" stroke-width="0.6">06/05/2024</text>
<text transform="translate(894.43,205.20) rotate(-34)" font-size="8.8" fill="#111" text-anchor="end" stroke="#111" stroke-width="0.6">07/05/2024</text>
<text transform="translate(908.29,205.20) rotate(-34)" font-size="8.8" fill="#111" text-anchor="end" stroke="#111" stroke-width="0.6">08/05/2024</text>
<text transform="translate(922.16,205.20) rotate(-34)" font-size="8.8" fill="#111" text-anchor="end" stroke="#111" stroke-width="0.6">09/05/2024</text>
<text transform="translate(936.02,205.20) rotate(-34)" font-size="8.8" fill="#111" text-anchor="end" stroke="#111" stroke-width="0.6">10/05/2024</text>
<text transform="translate(949.89,205.20) rotate(-34)" font-size="8.8" fill="#111" text-anchor="end" stroke="#111" stroke-width="0.6">11/05/2024</text>
<text transform="translate(963.75,205.20) rotate(-34)" font-size="8.8" fill="#111" text-anchor="end" stroke="#111" stroke-width="0.6">13/05/2024</text>
<text transform="translate(977.62,205.20) rotate(-34)" font-size="8.8" fill="#111" text-anchor="end" stroke="#111" stroke-width="0.6">14/05/2024</text>
<text transform="translate(991.49,205.20) rotate(-34)" font-size="8.8" fill="#111" text-anchor="end" stroke="#111" stroke-width="0.6">15/05/2024</text>
<text transform="translate(1005.35,205.20) rotate(-34)" font-size="8.8" fill="#111" text-anchor="end" stroke="#111" stroke-width="0.6">16/05/2024</text>
<rect x="42.15" y="413.43" width="20.9" height="87.97" fill="#E2434C"/>
<text x="52.60" y="409.33" font-size="8.4" fill="#222" text-anchor="middle" font-weight="bold" textLength="13.0" lengthAdjust="spacingAndGlyphs" stroke="#222" stroke-width="0.3">971</text>
<rect x="63.05" y="487.90" width="20.9" height="13.50" fill="#FCDA1E"/>
<text x="73.50" y="483.80" font-size="8.4" fill="#222" text-anchor="middle" font-weight="bold" textLength="13.0" lengthAdjust="spacingAndGlyphs" stroke="#222" stroke-width="0.3">149</text>
<rect x="83.95" y="493.70" width="20.9" height="7.70" fill="#13B272"/>
<text x="94.40" y="489.60" font-size="8.4" fill="#222" text-anchor="middle" font-weight="bold" textLength="8.7" lengthAdjust="spacingAndGlyphs" stroke="#222" stroke-width="0.3">85</text>
<text x="73.80" y="513.60" font-size="8.7" fill="#1a1a1a" text-anchor="middle" textLength="38.9" lengthAdjust="spacingAndGlyphs" stroke="#1a1a1a" stroke-width="0.3">Semana 1</text>
<rect x="122.26" y="398.03" width="20.9" height="103.37" fill="#E2434C"/>
<text x="132.71" y="393.93" font-size="8.4" fill="#222" text-anchor="middle" font-weight="bold" textLength="17.4" lengthAdjust="spacingAndGlyphs" stroke="#222" stroke-width="0.3">1141</text>
<rect x="143.16" y="488.26" width="20.9" height="13.14" fill="#FCDA1E"/>
<text x="153.61" y="484.16" font-size="8.4" fill="#222" text-anchor="middle" font-weight="bold" textLength="13.0" lengthAdjust="spacingAndGlyphs" stroke="#222" stroke-width="0.3">145</text>
<rect x="164.06" y="496.33" width="20.9" height="5.07" fill="#13B272"/>
<text x="174.51" y="492.23" font-size="8.4" fill="#222" text-anchor="middle" font-weight="bold" textLength="8.7" lengthAdjust="spacingAndGlyphs" stroke="#222" stroke-width="0.3">56</text>
<text x="153.91" y="513.60" font-size="8.7" fill="#1a1a1a" text-anchor="middle" textLength="38.9" lengthAdjust="spacingAndGlyphs" stroke="#1a1a1a" stroke-width="0.3">Semana 2</text>
<rect x="202.37" y="378.46" width="20.9" height="122.94" fill="#E2434C"/>
<text x="212.82" y="374.36" font-size="8.4" fill="#222" text-anchor="middle" font-weight="bold" textLength="17.4" lengthAdjust="spacingAndGlyphs" stroke="#222" stroke-width="0.3">1357</text>
<rect x="223.27" y="486.45" width="20.9" height="14.95" fill="#FCDA1E"/>
<text x="233.72" y="482.35" font-size="8.4" fill="#222" text-anchor="middle" font-weight="bold" textLength="13.0" lengthAdjust="spacingAndGlyphs" stroke="#222" stroke-width="0.3">165</text>
<rect x="244.17" y="492.07" width="20.9" height="9.33" fill="#13B272"/>
<text x="254.62" y="487.97" font-size="8.4" fill="#222" text-anchor="middle" font-weight="bold" textLength="13.0" lengthAdjust="spacingAndGlyphs" stroke="#222" stroke-width="0.3">103</text>
<text x="234.02" y="513.60" font-size="8.7" fill="#1a1a1a" text-anchor="middle" textLength="38.9" lengthAdjust="spacingAndGlyphs" stroke="#1a1a1a" stroke-width="0.3">Semana 3</text>
<rect x="282.48" y="335.24" width="20.9" height="166.16" fill="#E2434C"/>
<text x="292.93" y="331.14" font-size="8.4" fill="#222" text-anchor="middle" font-weight="bold" textLength="17.4" lengthAdjust="spacingAndGlyphs" stroke="#222" stroke-width="0.3">1834</text>
<rect x="303.38" y="482.28" width="20.9" height="19.12" fill="#FCDA1E"/>
<text x="313.83" y="478.18" font-size="8.4" fill="#222" text-anchor="middle" font-weight="bold" textLength="13.0" lengthAdjust="spacingAndGlyphs" stroke="#222" stroke-width="0.3">211</text>
<rect x="324.28" y="487.81" width="20.9" height="13.59" fill="#13B272"/>
<text x="334.73" y="483.71" font-size="8.4" fill="#222" text-anchor="middle" font-weight="bold" textLength="13.0" lengthAdjust="spacingAndGlyphs" stroke="#222" stroke-width="0.3">150</text>
<text x="314.13" y="513.60" font-size="8.7" fill="#1a1a1a" text-anchor="middle" textLength="38.9" lengthAdjust="spacingAndGlyphs" stroke="#1a1a1a" stroke-width="0.3">Semana 4</text>
<rect x="362.59" y="359.52" width="20.9" height="141.88" fill="#E2434C"/>
<text x="373.04" y="355.42" font-size="8.4" fill="#222" text-anchor="middle" font-weight="bold" textLength="17.4" lengthAdjust="spacingAndGlyphs" stroke="#222" stroke-width="0.3">1566</text>
<rect x="383.49" y="489.08" width="20.9" height="12.32" fill="#FCDA1E"/>
<text x="393.94" y="484.98" font-size="8.4" fill="#222" text-anchor="middle" font-weight="bold" textLength="13.0" lengthAdjust="spacingAndGlyphs" stroke="#222" stroke-width="0.3">136</text>
<rect x="404.39" y="489.62" width="20.9" height="11.78" fill="#13B272"/>
<text x="414.84" y="485.52" font-size="8.4" fill="#222" text-anchor="middle" font-weight="bold" textLength="13.0" lengthAdjust="spacingAndGlyphs" stroke="#222" stroke-width="0.3">130</text>
<text x="394.24" y="513.60" font-size="8.7" fill="#1a1a1a" text-anchor="middle" textLength="38.9" lengthAdjust="spacingAndGlyphs" stroke="#1a1a1a" stroke-width="0.3">Semana 5</text>
<rect x="442.70" y="319.84" width="20.9" height="181.56" fill="#E2434C"/>
<text x="453.15" y="315.74" font-size="8.4" fill="#222" text-anchor="middle" font-weight="bold" textLength="17.4" lengthAdjust="spacingAndGlyphs" stroke="#222" stroke-width="0.3">2004</text>
<rect x="463.60" y="491.98" width="20.9" height="9.42" fill="#FCDA1E"/>
<text x="474.05" y="487.88" font-size="8.4" fill="#222" text-anchor="middle" font-weight="bold" textLength="13.0" lengthAdjust="spacingAndGlyphs" stroke="#222" stroke-width="0.3">104</text>
<rect x="484.50" y="487.54" width="20.9" height="13.86" fill="#13B272"/>
<text x="494.95" y="483.44" font-size="8.4" fill="#222" text-anchor="middle" font-weight="bold" textLength="13.0" lengthAdjust="spacingAndGlyphs" stroke="#222" stroke-width="0.3">153</text>
<text x="474.35" y="513.60" font-size="8.7" fill="#1a1a1a" text-anchor="middle" textLength="38.9" lengthAdjust="spacingAndGlyphs" stroke="#1a1a1a" stroke-width="0.3">Semana 6</text>
<rect x="522.81" y="317.84" width="20.9" height="183.56" fill="#E2434C"/>
<text x="533.26" y="313.74" font-size="8.4" fill="#222" text-anchor="middle" font-weight="bold" textLength="17.4" lengthAdjust="spacingAndGlyphs" stroke="#222" stroke-width="0.3">2026</text>
<rect x="543.71" y="493.34" width="20.9" height="8.06" fill="#FCDA1E"/>
<text x="554.16" y="489.24" font-size="8.4" fill="#222" text-anchor="middle" font-weight="bold" textLength="8.7" lengthAdjust="spacingAndGlyphs" stroke="#222" stroke-width="0.3">89</text>
<rect x="564.61" y="488.17" width="20.9" height="13.23" fill="#13B272"/>
<text x="575.06" y="484.07" font-size="8.4" fill="#222" text-anchor="middle" font-weight="bold" textLength="13.0" lengthAdjust="spacingAndGlyphs" stroke="#222" stroke-width="0.3">146</text>
<text x="554.46" y="513.60" font-size="8.7" fill="#1a1a1a" text-anchor="middle" textLength="38.9" lengthAdjust="spacingAndGlyphs" stroke="#1a1a1a" stroke-width="0.3">Semana 7</text>
<rect x="602.92" y="335.06" width="20.9" height="166.34" fill="#E2434C"/>
<text x="613.37" y="330.96" font-size="8.4" fill="#222" text-anchor="middle" font-weight="bold" textLength="17.4" lengthAdjust="spacingAndGlyphs" stroke="#222" stroke-width="0.3">1836</text>
<rect x="623.82" y="487.36" width="20.9" height="14.04" fill="#FCDA1E"/>
<text x="634.27" y="483.26" font-size="8.4" fill="#222" text-anchor="middle" font-weight="bold" textLength="13.0" lengthAdjust="spacingAndGlyphs" stroke="#222" stroke-width="0.3">155</text>
<rect x="644.72" y="489.80" width="20.9" height="11.60" fill="#13B272"/>
<text x="655.17" y="485.70" font-size="8.4" fill="#222" text-anchor="middle" font-weight="bold" textLength="13.0" lengthAdjust="spacingAndGlyphs" stroke="#222" stroke-width="0.3">128</text>
<text x="634.57" y="513.60" font-size="8.7" fill="#1a1a1a" text-anchor="middle" textLength="38.9" lengthAdjust="spacingAndGlyphs" stroke="#1a1a1a" stroke-width="0.3">Semana 8</text>
<rect x="683.03" y="359.52" width="20.9" height="141.88" fill="#E2434C"/>
<text x="693.48" y="355.42" font-size="8.4" fill="#222" text-anchor="middle" font-weight="bold" textLength="17.4" lengthAdjust="spacingAndGlyphs" stroke="#222" stroke-width="0.3">1566</text>
<rect x="703.93" y="483.10" width="20.9" height="18.30" fill="#FCDA1E"/>
<text x="714.38" y="479.00" font-size="8.4" fill="#222" text-anchor="middle" font-weight="bold" textLength="13.0" lengthAdjust="spacingAndGlyphs" stroke="#222" stroke-width="0.3">202</text>
<rect x="724.83" y="491.34" width="20.9" height="10.06" fill="#13B272"/>
<text x="735.28" y="487.24" font-size="8.4" fill="#222" text-anchor="middle" font-weight="bold" textLength="13.0" lengthAdjust="spacingAndGlyphs" stroke="#222" stroke-width="0.3">111</text>
<text x="714.68" y="513.60" font-size="8.7" fill="#1a1a1a" text-anchor="middle" textLength="38.9" lengthAdjust="spacingAndGlyphs" stroke="#1a1a1a" stroke-width="0.3">Semana 9</text>
<rect x="763.14" y="397.39" width="20.9" height="104.01" fill="#E2434C"/>
<text x="773.59" y="393.29" font-size="8.4" fill="#222" text-anchor="middle" font-weight="bold" textLength="17.4" lengthAdjust="spacingAndGlyphs" stroke="#222" stroke-width="0.3">1148</text>
<rect x="784.04" y="491.43" width="20.9" height="9.97" fill="#FCDA1E"/>
<text x="794.49" y="487.33" font-size="8.4" fill="#222" text-anchor="middle" font-weight="bold" textLength="13.0" lengthAdjust="spacingAndGlyphs" stroke="#222" stroke-width="0.3">110</text>
<rect x="804.94" y="493.16" width="20.9" height="8.24" fill="#13B272"/>
<text x="815.39" y="489.06" font-size="8.4" fill="#222" text-anchor="middle" font-weight="bold" textLength="8.7" lengthAdjust="spacingAndGlyphs" stroke="#222" stroke-width="0.3">91</text>
<text x="794.79" y="513.60" font-size="8.7" fill="#1a1a1a" text-anchor="middle" textLength="43.6" lengthAdjust="spacingAndGlyphs" stroke="#1a1a1a" stroke-width="0.3">Semana 10</text>
<rect x="843.25" y="410.08" width="20.9" height="91.32" fill="#E2434C"/>
<text x="853.70" y="405.98" font-size="8.4" fill="#222" text-anchor="middle" font-weight="bold" textLength="17.4" lengthAdjust="spacingAndGlyphs" stroke="#222" stroke-width="0.3">1008</text>
<rect x="864.15" y="492.79" width="20.9" height="8.61" fill="#FCDA1E"/>
<text x="874.60" y="488.69" font-size="8.4" fill="#222" text-anchor="middle" font-weight="bold" textLength="8.7" lengthAdjust="spacingAndGlyphs" stroke="#222" stroke-width="0.3">95</text>
<rect x="885.05" y="493.16" width="20.9" height="8.24" fill="#13B272"/>
<text x="895.50" y="489.06" font-size="8.4" fill="#222" text-anchor="middle" font-weight="bold" textLength="8.7" lengthAdjust="spacingAndGlyphs" stroke="#222" stroke-width="0.3">91</text>
<text x="874.90" y="513.60" font-size="8.7" fill="#1a1a1a" text-anchor="middle" textLength="43.6" lengthAdjust="spacingAndGlyphs" stroke="#1a1a1a" stroke-width="0.3">Semana 11</text>
<rect x="923.36" y="440.52" width="20.9" height="60.88" fill="#E2434C"/>
<text x="933.81" y="436.42" font-size="8.4" fill="#222" text-anchor="middle" font-weight="bold" textLength="13.0" lengthAdjust="spacingAndGlyphs" stroke="#222" stroke-width="0.3">672</text>
<rect x="944.26" y="488.44" width="20.9" height="12.96" fill="#FCDA1E"/>
<text x="954.71" y="484.34" font-size="8.4" fill="#222" text-anchor="middle" font-weight="bold" textLength="13.0" lengthAdjust="spacingAndGlyphs" stroke="#222" stroke-width="0.3">143</text>
<rect x="965.16" y="493.61" width="20.9" height="7.79" fill="#13B272"/>
<text x="975.61" y="489.51" font-size="8.4" fill="#222" text-anchor="middle" font-weight="bold" textLength="8.7" lengthAdjust="spacingAndGlyphs" stroke="#222" stroke-width="0.3">86</text>
<text x="955.01" y="513.60" font-size="8.7" fill="#1a1a1a" text-anchor="middle" textLength="43.6" lengthAdjust="spacingAndGlyphs" stroke="#1a1a1a" stroke-width="0.3">Semana 12</text>
<polyline fill="none" stroke="#2FA3BF" stroke-width="1.6" stroke-linejoin="round" points="73.50,392.23 153.61,379.81 233.72,354.17 313.83,302.53 393.94,335.42 474.05,296.55 554.16,295.65 634.27,309.42 714.38,331.16 794.49,379.36 874.60,393.22 954.71,419.77"/>
<text x="73.90" y="402.78" font-size="8.5" fill="#333" text-anchor="middle" textLength="20.0" lengthAdjust="spacingAndGlyphs" stroke="#333" stroke-width="0.3">1.205</text>
<text x="154.01" y="375.76" font-size="8.5" fill="#333" text-anchor="middle" textLength="20.0" lengthAdjust="spacingAndGlyphs" stroke="#333" stroke-width="0.3">1.342</text>
<text x="234.12" y="350.12" font-size="8.5" fill="#333" text-anchor="middle" textLength="20.0" lengthAdjust="spacingAndGlyphs" stroke="#333" stroke-width="0.3">1.625</text>
<text x="314.23" y="298.48" font-size="8.5" fill="#333" text-anchor="middle" textLength="20.0" lengthAdjust="spacingAndGlyphs" stroke="#333" stroke-width="0.3">2.195</text>
<text x="394.34" y="345.97" font-size="8.5" fill="#333" text-anchor="middle" textLength="20.0" lengthAdjust="spacingAndGlyphs" stroke="#333" stroke-width="0.3">1.832</text>
<text x="474.45" y="292.50" font-size="8.5" fill="#333" text-anchor="middle" textLength="20.0" lengthAdjust="spacingAndGlyphs" stroke="#333" stroke-width="0.3">2.261</text>
<text x="554.56" y="291.60" font-size="8.5" fill="#333" text-anchor="middle" textLength="20.0" lengthAdjust="spacingAndGlyphs" stroke="#333" stroke-width="0.3">2.271</text>
<text x="634.67" y="305.37" font-size="8.5" fill="#333" text-anchor="middle" textLength="20.0" lengthAdjust="spacingAndGlyphs" stroke="#333" stroke-width="0.3">2.119</text>
<text x="714.78" y="327.11" font-size="8.5" fill="#333" text-anchor="middle" textLength="20.0" lengthAdjust="spacingAndGlyphs" stroke="#333" stroke-width="0.3">1.879</text>
<text x="794.89" y="375.31" font-size="8.5" fill="#333" text-anchor="middle" textLength="20.0" lengthAdjust="spacingAndGlyphs" stroke="#333" stroke-width="0.3">1.347</text>
<text x="875.00" y="389.17" font-size="8.5" fill="#333" text-anchor="middle" textLength="20.0" lengthAdjust="spacingAndGlyphs" stroke="#333" stroke-width="0.3">1.194</text>
<text x="955.11" y="430.32" font-size="8.5" fill="#333" text-anchor="middle" textLength="13.4" lengthAdjust="spacingAndGlyphs" stroke="#333" stroke-width="0.3">901</text>
</g>
</svg>
</body></html>
